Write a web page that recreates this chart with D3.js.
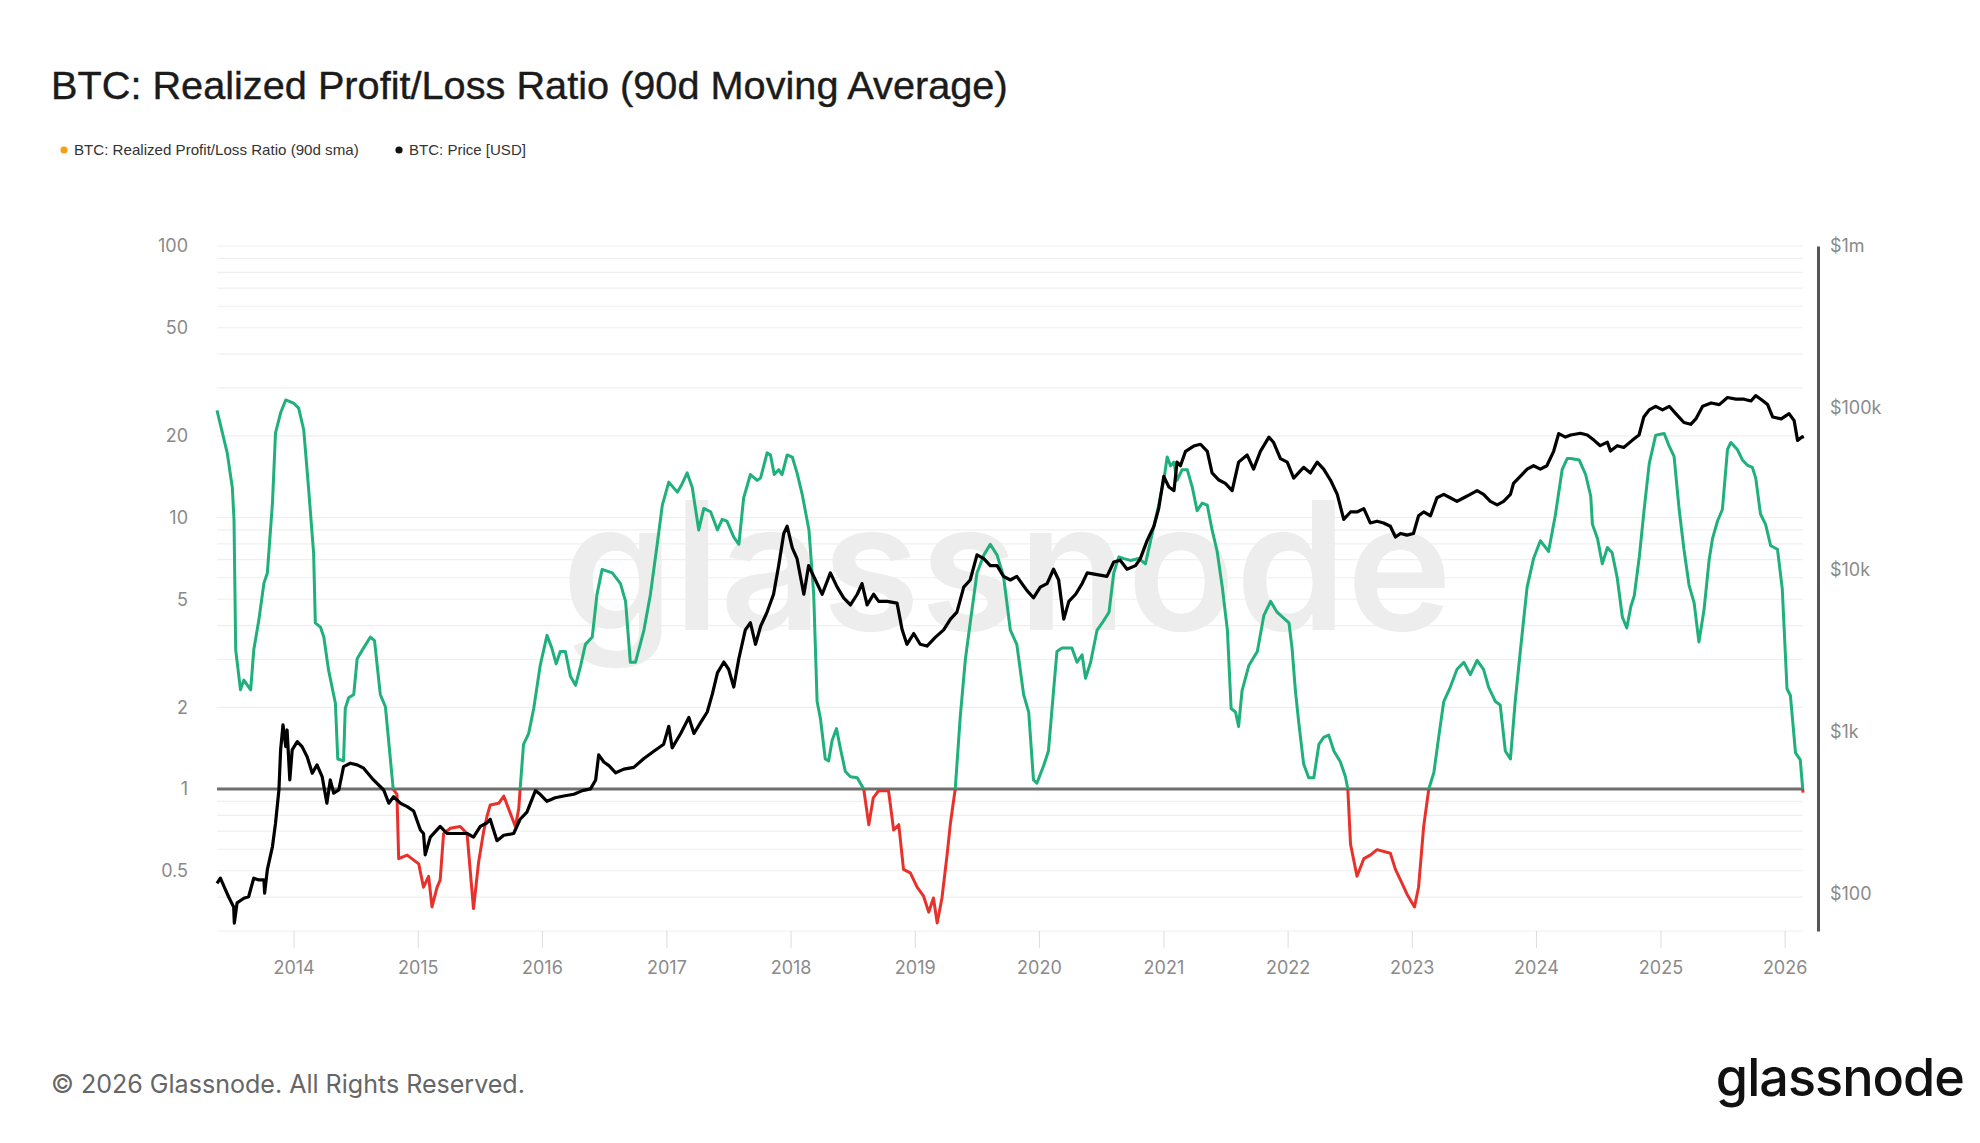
<!DOCTYPE html>
<html>
<head>
<meta charset="utf-8">
<script src="https://cdn.jsdelivr.net/npm/d3@7"></script>
<style>
  body { margin: 0; background: #fff; }
  svg { display: block; }
</style>
</head>
<body>
<div id="canvas"></div>
<script>
// -------------------------------------------- Data

// Realized Profit/Loss Ratio (90d sma)
const ratioDates = [
  "2013-05-21","2013-06-20","2013-07-05","2013-07-10","2013-07-15","2013-07-29","2013-08-08","2013-08-28","2013-09-06","2013-09-21","2013-10-06","2013-10-16","2013-10-31","2013-11-09","2013-11-24","2013-12-09",
  "2014-01-01","2014-01-16","2014-01-31","2014-02-14","2014-03-01","2014-03-06","2014-03-21","2014-03-31","2014-04-14","2014-05-04","2014-05-11","2014-05-28","2014-06-02","2014-06-12","2014-06-27","2014-07-07","2014-07-26","2014-08-15","2014-08-27","2014-09-13","2014-09-28","2014-10-21","2014-11-01","2014-11-06","2014-12-01",
  "2015-01-04","2015-01-18","2015-02-02","2015-02-12","2015-02-27","2015-03-08","2015-03-18","2015-04-07","2015-05-06","2015-05-26","2015-06-14","2015-06-29","2015-07-14","2015-07-24","2015-08-02","2015-08-27","2015-09-11","2015-09-25","2015-10-15","2015-10-25","2015-10-29","2015-11-08","2015-11-23","2015-12-08","2015-12-27",
  "2016-01-16","2016-01-30","2016-02-12","2016-02-24","2016-03-10","2016-03-25","2016-04-09","2016-04-24","2016-05-08","2016-05-28","2016-06-11","2016-06-26","2016-07-26","2016-08-19","2016-09-03","2016-09-17","2016-10-02","2016-10-27","2016-11-15","2016-12-05","2016-12-20",
  "2017-01-08","2017-02-02","2017-02-16","2017-03-03","2017-03-18","2017-04-06","2017-04-21","2017-05-11","2017-05-31","2017-06-14","2017-06-28","2017-07-18","2017-08-02","2017-08-16","2017-09-05","2017-09-25","2017-10-05","2017-10-24","2017-11-03","2017-11-14","2017-11-27","2017-12-07","2017-12-22",
  "2018-01-06","2018-01-20","2018-02-04","2018-02-24","2018-03-10","2018-03-20","2018-03-30","2018-04-13","2018-04-23","2018-05-03","2018-05-16","2018-05-27","2018-06-11","2018-06-26","2018-07-16","2018-08-04","2018-08-19","2018-09-01","2018-09-17","2018-10-16","2018-10-31","2018-11-15","2018-11-29","2018-12-19",
  "2019-01-08","2019-01-27","2019-02-11","2019-02-25","2019-03-08","2019-03-22","2019-04-06","2019-04-16","2019-04-30","2019-05-15","2019-05-30","2019-06-13","2019-07-03","2019-07-23","2019-08-11","2019-08-31","2019-09-19","2019-10-09","2019-10-28","2019-11-17","2019-12-02","2019-12-16","2019-12-26",
  "2020-01-15","2020-01-29","2020-02-13","2020-02-23","2020-03-09","2020-04-07","2020-04-22","2020-05-07","2020-05-17","2020-06-01","2020-06-20","2020-07-05","2020-07-25","2020-08-08","2020-08-23","2020-09-07","2020-09-26","2020-10-21","2020-11-09","2020-11-29","2020-12-18",
  "2021-01-02","2021-01-12","2021-01-22","2021-02-01","2021-02-10","2021-02-25","2021-03-12","2021-03-27","2021-04-10","2021-04-25","2021-05-10","2021-05-24","2021-06-08","2021-06-23","2021-07-08","2021-07-19","2021-08-01","2021-08-10","2021-08-20","2021-09-09","2021-10-04","2021-10-23","2021-11-12","2021-12-01",
  "2022-01-05","2022-01-14","2022-01-24","2022-02-03","2022-02-17","2022-03-04","2022-03-19","2022-04-03","2022-04-17","2022-05-02","2022-05-17","2022-06-05","2022-06-20","2022-06-27","2022-07-05","2022-07-24","2022-08-13","2022-09-01","2022-09-21","2022-10-30","2022-11-14","2022-11-29","2022-12-18",
  "2023-01-09","2023-01-21","2023-02-05","2023-02-20","2023-03-07","2023-03-21","2023-04-05","2023-04-24","2023-05-14","2023-06-03","2023-06-22","2023-07-12","2023-07-31","2023-08-15","2023-09-04","2023-09-18","2023-10-03","2023-10-18","2023-11-01","2023-11-16","2023-12-06","2023-12-25",
  "2024-01-14","2024-02-07","2024-02-27","2024-03-18","2024-04-02","2024-04-12","2024-05-07","2024-05-26","2024-06-10","2024-06-15","2024-06-30","2024-07-14","2024-07-29","2024-08-12","2024-08-27","2024-09-11","2024-09-24","2024-10-06","2024-10-16","2024-10-31","2024-11-14","2024-11-29","2024-12-18",
  "2025-01-12","2025-01-26","2025-02-10","2025-02-25","2025-03-11","2025-03-26","2025-04-10","2025-04-24","2025-05-09","2025-05-24","2025-06-03","2025-06-18","2025-07-02","2025-07-17","2025-07-27","2025-08-15","2025-08-30","2025-09-13","2025-09-28","2025-10-08","2025-10-22","2025-11-06","2025-11-21","2025-12-11","2025-12-25",
  "2026-01-08","2026-01-18","2026-02-02","2026-02-16","2026-02-24"
];
const ratioValues = [
  24.8,17.3,12.9,9.8,3.25,2.32,2.52,2.32,3.25,4.19,5.74,6.25,11.3,20.5,24.3,27.1,
  26.4,25.3,21.0,12.9,7.4,4.09,3.95,3.63,2.74,2.07,1.29,1.27,1.98,2.17,2.23,3.02,3.31,3.63,3.52,2.23,2.01,1.0,0.956,0.554,0.571,
  0.53,0.435,0.477,0.368,0.435,0.462,0.685,0.717,0.728,0.685,0.363,0.538,0.7,0.797,0.873,0.886,0.942,0.847,0.728,0.847,1.0,1.46,1.6,1.98,2.85,
  3.68,3.31,2.89,3.21,3.21,2.6,2.41,2.85,3.41,3.63,5.21,6.44,6.25,5.71,4.91,2.93,2.93,3.85,5.21,7.97,11.1,
  13.5,12.4,13.3,14.6,12.9,9.0,10.8,10.5,9.0,9.85,9.7,8.47,7.97,11.8,14.4,13.7,14.0,17.3,17.0,14.4,15.0,14.4,17.0,
  16.7,14.6,12.2,9.0,5.21,2.1,1.81,1.29,1.27,1.51,1.67,1.42,1.16,1.11,1.1,1.0,0.739,0.927,0.986,0.986,0.706,0.739,0.506,0.491,
  0.435,0.403,0.352,0.397,0.321,0.397,0.571,0.75,1.0,1.86,3.02,4.09,6.25,7.27,7.97,7.27,6.07,3.85,3.41,2.23,1.92,1.08,1.05,
  1.22,1.38,2.3,3.21,3.31,3.31,2.93,3.12,2.56,2.93,3.85,4.09,4.48,6.25,7.16,7.06,6.95,7.06,6.75,8.72,11.1,
  13.7,16.7,15.5,16.0,13.7,15.0,15.0,12.9,10.6,11.3,11.1,9.0,7.5,5.54,3.85,1.98,1.92,1.7,2.3,2.85,3.21,4.35,4.91,4.48,
  4.09,3.31,2.3,1.75,1.24,1.1,1.1,1.46,1.55,1.58,1.38,1.26,1.11,1.0,0.626,0.477,0.554,0.571,0.598,0.58,0.506,0.462,0.41,
  0.368,0.435,0.728,1.0,1.15,1.55,2.1,2.37,2.76,2.93,2.64,2.98,2.76,2.37,2.1,2.04,1.38,1.29,2.1,3.21,5.54,7.06,
  8.21,7.5,10.2,15.0,16.5,16.5,16.3,14.4,12.0,9.44,8.36,6.76,7.75,7.41,5.99,4.3,3.92,4.7,5.15,7.19,10.7,15.8,20.1,
  20.4,18.4,16.8,10.7,7.64,5.64,4.85,3.48,4.56,6.97,8.36,9.73,10.7,17.8,18.9,17.8,16.3,15.6,15.3,14.0,10.3,9.44,7.87,7.64,5.47,
  2.34,2.21,1.36,1.28,0.97
];

// BTC price in USD
const priceDates = [
  "2013-05-21","2013-05-31","2013-06-15","2013-06-24","2013-07-09","2013-07-11","2013-07-19","2013-08-08","2013-08-22","2013-09-06","2013-09-21","2013-10-06","2013-10-08","2013-10-16","2013-10-31","2013-11-09","2013-11-19","2013-11-24","2013-12-01","2013-12-09","2013-12-13","2013-12-21","2013-12-28",
  "2014-01-12","2014-01-26","2014-02-10","2014-02-25","2014-03-11","2014-03-26","2014-04-09","2014-04-19","2014-04-29","2014-05-14","2014-05-28","2014-06-17","2014-07-07","2014-07-26","2014-08-24","2014-09-23","2014-10-08","2014-10-22","2014-11-11","2014-12-01","2014-12-20",
  "2015-01-09","2015-01-18","2015-01-23","2015-02-07","2015-03-08","2015-03-28","2015-04-27","2015-05-26","2015-06-14","2015-07-04","2015-07-24","2015-08-02","2015-08-22","2015-09-11","2015-10-10","2015-10-29","2015-11-18","2015-12-13","2015-12-27",
  "2016-01-16","2016-02-09","2016-03-05","2016-04-04","2016-04-29","2016-05-23","2016-06-07","2016-06-16","2016-07-01","2016-07-16","2016-08-05","2016-08-29","2016-09-27","2016-10-27","2016-11-25","2016-12-24",
  "2017-01-08","2017-01-18","2017-02-12","2017-03-08","2017-03-23","2017-04-11","2017-05-01","2017-05-16","2017-05-31","2017-06-19","2017-07-03","2017-07-18","2017-08-02","2017-08-21","2017-09-05","2017-09-20","2017-10-05","2017-10-24","2017-11-12","2017-11-27","2017-12-12","2017-12-22",
  "2018-01-06","2018-01-20","2018-02-09","2018-02-23","2018-03-15","2018-04-04","2018-04-28","2018-05-18","2018-06-06","2018-06-26","2018-07-16","2018-07-30","2018-08-14","2018-09-02","2018-09-17","2018-10-12","2018-11-10","2018-11-25","2018-12-09","2018-12-29",
  "2019-01-17","2019-02-06","2019-03-03","2019-03-27","2019-04-16","2019-05-05","2019-05-25","2019-06-13","2019-07-03","2019-07-23","2019-08-11","2019-08-31","2019-09-19","2019-10-09","2019-10-28","2019-11-27","2019-12-16",
  "2020-01-05","2020-01-25","2020-02-13","2020-02-28","2020-03-14","2020-03-29","2020-04-18","2020-05-07","2020-05-22","2020-06-20","2020-07-19","2020-08-08","2020-08-27","2020-09-16","2020-10-11","2020-10-25","2020-11-14","2020-12-04","2020-12-18",
  "2021-01-02","2021-01-17","2021-02-01","2021-02-10","2021-02-20","2021-03-07","2021-03-31","2021-04-20","2021-05-10","2021-05-24","2021-06-13","2021-07-02","2021-07-22","2021-08-10","2021-09-04","2021-09-23","2021-10-13","2021-11-07","2021-11-21","2021-12-11","2021-12-31",
  "2022-01-19","2022-02-17","2022-03-09","2022-03-29","2022-04-17","2022-05-07","2022-05-27","2022-06-15","2022-07-05","2022-07-24","2022-08-13","2022-09-01","2022-09-21","2022-10-10","2022-10-30","2022-11-14","2022-11-29","2022-12-18",
  "2023-01-06","2023-01-21","2023-02-05","2023-02-25","2023-03-16","2023-04-05","2023-04-24","2023-05-14","2023-06-03","2023-06-22","2023-07-12","2023-07-31","2023-08-20","2023-09-09","2023-09-28","2023-10-18","2023-10-27","2023-11-16","2023-12-06","2023-12-25",
  "2024-01-14","2024-02-02","2024-02-22","2024-03-08","2024-03-28","2024-04-12","2024-05-11","2024-05-31","2024-06-20","2024-07-08","2024-07-29","2024-08-07","2024-08-27","2024-09-15","2024-10-10","2024-10-30","2024-11-13","2024-11-29","2024-12-18",
  "2025-01-07","2025-01-27","2025-02-15","2025-03-11","2025-03-31","2025-04-15","2025-05-05","2025-05-30","2025-06-23","2025-07-17","2025-08-11","2025-09-04","2025-09-24","2025-10-08","2025-10-23","2025-11-12","2025-11-27","2025-12-22",
  "2026-01-14","2026-01-29","2026-02-08","2026-02-22","2026-02-24"
];
const priceValues = [
  116,125,106,96,83,66,88,94,96,125,122,122,101,141,196,273,438,774,1104,811,1028,505,774,
  871,811,703,556,626,530,363,505,419,438,611,641,626,597,505,438,363,398,363,346,325,
  248,236,174,224,261,236,236,236,224,261,275,289,213,230,236,289,320,434,412,
  373,392,402,412,434,445,505,721,652,619,559,589,604,685,759,840,
  1083,797,978,1229,978,1138,1327,1710,2317,2700,2437,1892,2840,4266,4720,3475,4490,5494,7080,10630,16800,18600,
  13700,11750,7080,10630,8670,7080,9590,7830,6730,6080,7080,8240,6080,7080,6400,6400,6240,4266,3475,4050,
  3475,3390,3850,4266,4970,5494,7830,8670,12400,11750,10630,10630,9120,8670,9120,7450,6730,
  7830,8240,10100,8670,4970,6400,7080,8240,9590,9350,9120,11190,11480,10100,10630,11750,15170,18600,23900,
  37800,32500,30900,46300,44000,54000,58200,59700,54000,39700,35900,34200,30900,46300,51300,41900,54000,66100,61200,48700,46300,
  36900,43000,39700,46300,41900,35900,29300,20500,22800,22800,23900,19500,20000,19500,18600,15960,16800,16400,
  16800,21600,22800,21600,27900,29300,27900,26500,27900,29300,30900,29300,26500,25200,26500,29300,34200,37800,41900,44000,
  41900,44000,54000,69500,66100,68100,69800,68100,63100,58500,61500,54200,58500,57000,63100,68100,87900,97300,102400,
  97300,102400,92300,81300,79300,85600,102400,107400,104900,116000,113300,113300,110500,119200,113300,104900,87900,85600,
  92300,83500,63100,66400,64700
];

// ticks
const ratioTicks = [100, 50, 20, 10, 5, 2, 1, 0.5];
const ratioTickLabels = ["100", "50", "20", "10", "5", "2", "1", "0.5"];
const priceTicks = [1e6, 1e5, 1e4, 1e3, 100];
const priceTickLabels = ["$1m", "$100k", "$10k", "$1k", "$100"];
const yearTicks = [2014, 2015, 2016, 2017, 2018, 2019, 2020, 2021, 2022, 2023, 2024, 2025, 2026];
const yearLabels = ["2014", "2015", "2016", "2017", "2018", "2019", "2020", "2021", "2022", "2023", "2024", "2025", "2026"];

// -------------------------------------------- Dimensiones del lienzo
const width = 1980;
const height = 1143;
const plot = { left: 217, right: 1803, top: 246, bottom: 931 };
const rightAxisX = 1818;

const GREEN = "#1fb07c";
const RED = "#e8312b";
const GRID = "#efefef";
const LABEL = "#8a8a8a";

const svg = d3
  .select("#canvas")
  .append("svg")
  .attr("width", width)
  .attr("height", height);

// fit a text element to a given pixel width by scaling its font size
function fitWidth(text, target) {
  const w = text.node().getComputedTextLength();
  const fs = parseFloat(text.attr("font-size"));
  text.attr("font-size", (fs * target) / w);
}

// -------------------------------------------- Scales
const parse = d3.utcParse("%Y-%m-%d");
const ratio = ratioDates.map((d, i) => ({ date: parse(d), value: ratioValues[i] }));
const price = priceDates.map((d, i) => ({ date: parse(d), value: priceValues[i] }));

const x = d3
  .scaleUtc()
  .domain(d3.extent(ratio.concat(price), (d) => d.date))
  .range([plot.left, plot.right]);

const yRatio = d3.scaleLog().domain([0.3, 100]).range([plot.bottom, plot.top]);
const yPrice = d3.scaleLog().domain([59, 1e6]).range([plot.bottom, plot.top]);

// -------------------------------------------- Title + legend
const title = svg
  .append("text")
  .attr("x", 51)
  .attr("y", 99)
  .attr("font-family", "'Liberation Sans', Arial, sans-serif")
  .attr("font-size", 36)
  .attr("fill", "#1b1b1b")
  .attr("stroke", "#1b1b1b")
  .attr("stroke-width", 0.4)
  .text("BTC: Realized Profit/Loss Ratio (90d Moving Average)");
fitWidth(title, 957);

const legend = [
  { label: "BTC: Realized Profit/Loss Ratio (90d sma)", color: "#f5a01a", x: 64, w: 285 },
  { label: "BTC: Price [USD]", color: "#111", x: 399, w: 117 },
];
legend.forEach((l) => {
  svg.append("circle").attr("cx", l.x).attr("cy", 150).attr("r", 3.6).attr("fill", l.color);
  const t = svg
    .append("text")
    .attr("x", l.x + 10)
    .attr("y", 155)
    .attr("font-family", "'Liberation Sans', Arial, sans-serif")
    .attr("font-size", 14)
    .attr("fill", "#333")
    .text(l.label);
  fitWidth(t, l.w);
});

// -------------------------------------------- Grid
const g = svg.append("g");

g.append("g")
  .selectAll("line")
  .data(yRatio.ticks())
  .join("line")
  .attr("x1", plot.left)
  .attr("x2", plot.right)
  .attr("y1", (d) => yRatio(d))
  .attr("y2", (d) => yRatio(d))
  .attr("stroke", GRID)
  .attr("stroke-width", 1.2);

// watermark
const mark = g
  .append("text")
  .attr("x", 1007)
  .attr("y", 630)
  .attr("text-anchor", "middle")
  .attr("font-family", "Inter, 'Noto Sans', sans-serif")
  .attr("font-weight", 600)
  .attr("font-size", 170)
  .attr("fill", "#ededed")
  .text("glassnode");
fitWidth(mark, 890);

// -------------------------------------------- Axes
// -- left (ratio)
const leftAxis = g
  .append("g")
  .attr("transform", `translate(${plot.left},0)`)
  .call(
    d3.axisLeft(yRatio)
      .tickValues(ratioTicks)
      .tickFormat((d, i) => ratioTickLabels[i])
      .tickSize(0)
      .tickPadding(29)
  );
leftAxis.select(".domain").remove();

// -- right (price)
const rightAxis = g
  .append("g")
  .attr("transform", `translate(${rightAxisX},0)`)
  .call(
    d3.axisRight(yPrice)
      .tickValues(priceTicks)
      .tickFormat((d, i) => priceTickLabels[i])
      .tickSize(0)
      .tickSizeOuter(0)
      .tickPadding(12)
  );
rightAxis.select(".domain").attr("stroke", "#555").attr("stroke-width", 3);

// -- bottom (time)
const bottomAxis = g
  .append("g")
  .attr("transform", `translate(0,${plot.bottom})`)
  .call(
    d3.axisBottom(x)
      .tickValues(yearTicks.map((y) => new Date(Date.UTC(y, 0, 1))))
      .tickFormat((d, i) => yearLabels[i])
      .tickSize(17)
      .tickSizeOuter(0)
      .tickPadding(13)
  );
bottomAxis.select(".domain").remove();
bottomAxis.selectAll(".tick line").attr("stroke", "#dcdcdc");

[leftAxis, rightAxis, bottomAxis].forEach((a) =>
  a.selectAll("text")
    .attr("font-family", "Inter, 'Noto Sans', sans-serif")
    .attr("font-size", 18)
    .attr("fill", LABEL)
);

// -------------------------------------------- Ratio line (green above 1, red below)
const defs = svg.append("defs");
defs.append("clipPath").attr("id", "above")
  .append("rect")
  .attr("x", 0).attr("y", 0)
  .attr("width", width).attr("height", yRatio(1));
defs.append("clipPath").attr("id", "below")
  .append("rect")
  .attr("x", 0).attr("y", yRatio(1))
  .attr("width", width).attr("height", height - yRatio(1));

// reference line at 1
g.append("line")
  .attr("x1", plot.left)
  .attr("x2", plot.right)
  .attr("y1", yRatio(1))
  .attr("y2", yRatio(1))
  .attr("stroke", "#6e6e6e")
  .attr("stroke-width", 3);

const ratioLine = d3.line().x((d) => x(d.date)).y((d) => yRatio(d.value));

[["above", GREEN], ["below", RED]].forEach(([clip, color]) => {
  g.append("path")
    .datum(ratio)
    .attr("clip-path", `url(#${clip})`)
    .attr("fill", "none")
    .attr("stroke", color)
    .attr("stroke-width", 3)
    .attr("stroke-linejoin", "round")
    .attr("d", ratioLine);
});

// -------------------------------------------- Price line
const priceLine = d3.line().x((d) => x(d.date)).y((d) => yPrice(d.value));

g.append("path")
  .datum(price)
  .attr("fill", "none")
  .attr("stroke", "#000")
  .attr("stroke-width", 3.2)
  .attr("stroke-linejoin", "round")
  .attr("d", priceLine);

// -------------------------------------------- Footer
const foot = svg
  .append("text")
  .attr("x", 51)
  .attr("y", 1093)
  .attr("font-family", "Inter, 'Noto Sans', sans-serif")
  .attr("font-size", 22)
  .attr("fill", "#666")
  .text("© 2026 Glassnode. All Rights Reserved.");
fitWidth(foot, 474);

const logo = svg
  .append("text")
  .attr("x", 1964)
  .attr("y", 1096)
  .attr("text-anchor", "end")
  .attr("font-family", "Inter, 'Noto Sans', sans-serif")
  .attr("font-weight", 500)
  .attr("font-size", 46)
  .attr("fill", "#111")
  .attr("letter-spacing", -1)
  .text("glassnode");
fitWidth(logo, 247);
</script>
</body>
</html>
